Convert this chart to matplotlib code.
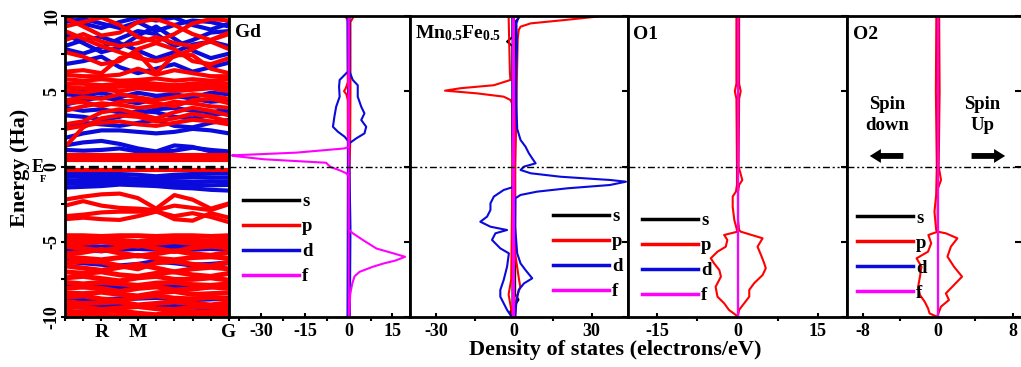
import matplotlib
matplotlib.use("Agg")
import matplotlib.pyplot as plt
from matplotlib.lines import Line2D
from matplotlib.ticker import MultipleLocator, FixedLocator, NullFormatter

plt.rcParams['font.family'] = ['Liberation Serif', 'DejaVu Serif']
plt.rcParams['font.weight'] = 'bold'
plt.rcParams['axes.unicode_minus'] = False
plt.rcParams['mathtext.fontset'] = 'custom'
plt.rcParams['mathtext.rm'] = 'Liberation Serif:bold'
plt.rcParams['mathtext.bf'] = 'Liberation Serif:bold'
plt.rcParams['mathtext.it'] = 'Liberation Serif:bold'

RED = '#ff0000'
BLUE = '#0a0adc'
MAG = '#ff00ff'

# ---------------- band structure data ----------------
K_POINTS = [0, 1, 2, 3, 4, 5, 6, 7, 8, 9]
K_TICK_POS = [2, 4, 9]
K_TICK_LABELS = ['R', 'M', 'G']

BLUE_BANDS = [
    # upper region
    [9.9, 9.5, 9.2, 9.6, 9.9, 9.7, 9.9, 9.4, 9.1, 9.5],
    [9.6, 9.8, 9.5, 9.2, 9.6, 9.0, 9.4, 9.7, 9.6, 9.3],
    [8.8, 8.2, 7.6, 7.9, 8.7, 9.3, 8.5, 7.7, 7.2, 7.5],
    [8.0, 8.4, 8.6, 8.2, 7.7, 7.2, 7.6, 8.1, 8.3, 8.0],
    [7.8, 7.5, 7.9, 8.5, 9.0, 8.8, 8.0, 8.4, 8.9, 9.0],
    [6.8, 7.0, 7.3, 6.6, 6.2, 6.5, 6.8, 6.3, 6.6, 6.9],
    [5.3, 5.1, 5.3, 5.5, 5.3, 5.4, 5.3, 5.5, 5.4, 5.2],
    [4.8, 4.7, 4.9, 4.6, 4.9, 4.7, 4.8, 4.6, 4.9, 4.8],
    [4.1, 4.4, 4.6, 4.4, 4.2, 4.5, 4.7, 4.5, 4.3, 4.4],
    [3.9, 3.7, 3.8, 3.6, 3.5, 3.8, 3.9, 3.7, 3.6, 3.8],
    [3.4, 3.3, 3.1, 3.3, 3.7, 3.6, 3.3, 3.2, 3.4, 3.6],
    [2.5, 2.9, 2.8, 2.7, 2.9, 3.1, 2.7, 2.6, 2.9, 3.1],
    [1.9, 2.2, 2.4, 2.4, 2.3, 2.2, 2.3, 2.5, 2.4, 2.2],
    [1.4, 1.6, 1.7, 1.5, 1.2, 1.0, 1.4, 1.3, 1.0, 0.95],
    [1.1, 1.05, 1.1, 1.2, 1.0, 0.95, 1.05, 1.25, 1.1, 1.0],
    # below Fermi level
    [-0.42, -0.45, -0.5, -0.5, -0.55, -0.65, -0.55, -0.5, -0.48, -0.45],
    [-0.65, -0.7, -0.7, -0.75, -0.8, -0.8, -0.75, -0.7, -0.75, -0.72],
    [-0.9, -0.95, -0.92, -0.9, -0.95, -0.98, -0.98, -1.0, -1.0, -0.98],
    [-1.15, -1.12, -1.1, -1.05, -1.1, -1.12, -1.18, -1.22, -1.25, -1.22],
    [-1.4, -1.35, -1.3, -1.2, -1.25, -1.3, -1.4, -1.45, -1.55, -1.6],
    # deep region
    [-5.25, -5.3, -5.35, -5.3, -5.35, -5.3, -5.25, -5.3, -5.3, -5.25],
    [-5.5, -5.55, -5.6, -5.5, -5.45, -5.5, -5.55, -5.5, -5.45, -5.5],
    [-6.3, -6.4, -6.5, -6.6, -6.5, -6.3, -6.4, -6.55, -6.5, -6.4],
    [-7.9, -8.0, -8.0, -8.05, -7.95, -7.9, -8.0, -8.05, -8.0, -7.95],
    [-8.7, -8.8, -8.85, -8.8, -8.75, -8.7, -8.8, -8.85, -8.8, -8.75],
    [-9.3, -9.35, -9.3, -9.25, -9.3, -9.35, -9.3, -9.35, -9.4, -9.35],
]

RED_BANDS = [
    # upper region
    [9.9, 9.3, 8.7, 8.9, 9.6, 9.8, 9.4, 8.8, 8.4, 8.9],
    [9.3, 9.6, 9.9, 9.4, 8.6, 8.3, 8.8, 9.5, 9.8, 9.7],
    [9.0, 8.5, 8.0, 7.6, 7.2, 7.0, 7.3, 7.8, 8.4, 8.8],
    [8.4, 8.8, 8.3, 8.0, 8.2, 8.6, 8.2, 8.0, 8.3, 7.8],
    [7.6, 7.3, 6.8, 7.0, 7.8, 8.2, 7.8, 7.0, 6.8, 7.2],
    [6.3, 6.4, 6.2, 7.2, 7.5, 6.2, 7.4, 7.4, 6.5, 6.2],
    [6.1, 6.0, 6.0, 6.1, 6.5, 6.1, 6.4, 6.2, 6.0, 6.0],
    [5.8, 5.7, 5.8, 5.7, 5.75, 5.85, 5.7, 5.8, 5.7, 5.8],
    [5.5, 5.5, 5.4, 5.5, 5.6, 5.5, 5.4, 5.5, 5.6, 5.5],
    [5.25, 5.2, 5.25, 5.3, 5.35, 5.3, 5.2, 5.3, 5.35, 5.25],
    [5.0, 4.9, 5.1, 5.0, 5.2, 5.1, 5.0, 5.1, 5.2, 5.0],
    [4.4, 4.6, 4.5, 4.8, 4.6, 4.4, 4.6, 4.8, 4.7, 4.5],
    [4.2, 4.3, 4.0, 4.3, 4.4, 4.2, 4.0, 4.4, 4.5, 4.2],
    [3.7, 4.0, 4.2, 4.1, 3.9, 4.0, 4.3, 4.2, 4.0, 3.9],
    [2.8, 3.0, 3.6, 3.8, 3.5, 3.2, 3.6, 3.9, 3.7, 3.4],
    [2.5, 2.7, 2.9, 3.0, 2.8, 2.7, 2.9, 3.1, 3.0, 2.8],
    [1.3, 2.6, 3.2, 3.4, 3.3, 3.0, 3.2, 3.5, 3.3, 3.0],
    # flat band above E_F
    [0.45, 0.45, 0.45, 0.45, 0.45, 0.45, 0.45, 0.45, 0.45, 0.45],
    [0.62, 0.62, 0.62, 0.62, 0.62, 0.62, 0.62, 0.62, 0.62, 0.62],
    [0.78, 0.78, 0.78, 0.78, 0.78, 0.78, 0.78, 0.78, 0.78, 0.78],
    [-0.2, -0.2, -0.2, -0.2, -0.2, -0.2, -0.2, -0.2, -0.2, -0.2],
    # -2 .. -4 region
    [-2.2, -2.0, -1.85, -1.8, -2.1, -2.8, -1.9, -2.2, -2.8, -2.45],
    [-2.6, -2.3, -2.6, -2.75, -2.8, -2.9, -2.6, -2.75, -2.9, -2.5],
    [-3.3, -3.2, -3.05, -3.0, -3.0, -2.95, -3.5, -3.6, -3.1, -3.4],
    [-3.5, -3.4, -3.5, -3.55, -3.3, -3.0, -3.3, -3.1, -3.35, -3.7],
    # deep region
    [-4.6, -4.6, -4.65, -4.6, -4.6, -4.65, -4.6, -4.6, -4.65, -4.6],
    [-4.9, -4.85, -4.8, -4.9, -5.0, -4.85, -4.8, -4.9, -4.95, -4.85],
    [-5.2, -5.1, -5.0, -5.15, -5.3, -5.1, -5.0, -5.1, -5.2, -5.15],
    [-5.3, -5.45, -5.6, -5.4, -5.2, -5.45, -5.65, -5.4, -5.3, -5.4],
    [-5.8, -5.7, -5.5, -5.75, -5.95, -5.8, -5.6, -5.8, -5.9, -5.7],
    [-6.0, -6.1, -6.2, -6.05, -5.9, -6.1, -6.2, -6.05, -6.0, -6.1],
    [-6.4, -6.3, -6.35, -6.6, -6.8, -6.4, -6.3, -6.5, -6.6, -6.35],
    [-6.6, -6.75, -6.9, -6.7, -6.5, -6.75, -7.0, -6.8, -6.7, -6.8],
    [-7.0, -7.1, -7.0, -7.2, -7.3, -7.1, -7.0, -7.2, -7.3, -7.1],
    [-7.4, -7.3, -7.45, -7.6, -7.4, -7.3, -7.5, -7.5, -7.4, -7.55],
    [-7.7, -7.8, -7.7, -7.8, -7.9, -7.75, -7.7, -7.85, -7.9, -7.8],
    [-8.1, -8.0, -8.1, -8.3, -8.1, -8.0, -8.2, -8.15, -8.0, -8.1],
    [-8.4, -8.45, -8.35, -8.5, -8.6, -8.4, -8.3, -8.5, -8.45, -8.4],
    [-8.7, -8.6, -8.8, -8.9, -8.7, -8.6, -8.75, -8.8, -8.7, -8.8],
    [-9.0, -9.1, -9.05, -9.0, -9.2, -9.1, -9.0, -9.1, -9.2, -9.05],
    [-9.3, -9.35, -9.5, -9.4, -9.3, -9.45, -9.5, -9.35, -9.3, -9.4],
    [-9.6, -9.7, -9.65, -9.6, -9.75, -9.85, -9.6, -9.7, -9.65, -9.6],
    [-9.9, -9.85, -9.95, -9.9, -9.85, -9.95, -9.9, -9.95, -9.85, -9.9],
]

# ---------------- DOS data: Gd ----------------
GD_S_UP_E = [10, -10]
GD_S_UP = [0.2, 0.2]
GD_S_DN_E = [10, -10]
GD_S_DN = [-0.2, -0.2]
GD_P_UP_E = [10, 9.8, 9.6, 5.0, 1.5, 0, -10]
GD_P_UP = [1.8, 1.2, 0.6, 0.6, 0.5, 0.3, 0.2]
GD_P_DN_E = [10, 9.7, 5.6, 5.2, 5.0, 4.8, 4.4, -10]
GD_P_DN = [-1.2, -0.3, -0.3, -1.0, -1.6, -0.8, -0.3, -0.2]
GD_D_UP_E = [10, 6.3, 5.75, 5.4, 4.64, 3.97, 3.53, 3.09, 2.64, 2.2, 1.87, 1.54, 1.2, -4, -10]
GD_D_UP = [0.3, 0.3, 1.4, 3.1, 3.1, 4.3, 5.4, 4.3, 6.0, 5.4, 2.6, 0.2, 0.1, 0.6, 0.4]
GD_D_DN_E = [10, 6.3, 5.75, 5.3, 4.64, 3.97, 3.31, 2.64, 2.31, 1.98, 1.65, 1.3, -10]
GD_D_DN = [-0.4, -0.3, -3.1, -3.3, -3.1, -4.3, -4.9, -5.4, -3.7, -1.4, 0, -0.2, -0.4]
GD_F_UP_E = [10, -4.2, -4.45, -4.9, -5.45, -5.77, -6.0, -6.25, -6.44, -6.66, -7.0, -7.3, -7.8, -8.5, -10]
GD_F_UP = [0.0, 0.0, 1.5, 5.0, 9.5, 15.3, 19.3, 16.0, 12.0, 8.3, 3.7, 2.0, 1.2, 0.5, 0.2]
GD_F_DN_E = [10, 1.3, 1.2, 0.92, 0.74, 0.67, 0.48, 0.25, 0.1, -0.05, -0.25, -0.45, -0.67, -10]
GD_F_DN = [0, 0, -1.5, -18, -40, -38, -29, -7.7, -7.0, -6.0, -3.1, -0.8, 0, 0]

# ---------------- DOS data: Mn0.5Fe0.5 ----------------
MF_S_UP_E = [10, 9.9, 9.6, -8.5, -8.85, -9.2, -10]
MF_S_UP = [0.5, 2.0, 0.5, 0.5, 1.8, 0.5, 0.5]
MF_S_DN_E = [10, 8.6, 8.3, 8.0, -9.4, -9.7, -10]
MF_S_DN = [-0.5, -0.5, -2.6, -0.5, -0.5, -1.5, -0.5]
MF_P_UP_E = [10, 9.95, 9.73, 9.51, 9.29, 9.07, 8.5, 6, 4, 2, 0, -5.77, -7.5, -8.0, -8.7, -10]
MF_P_UP = [33, 31.6, 19.4, 6.5, 2.6, 1.9, 1.5, 1.2, 1.0, 0.8, 0.5, 0.5, 2.0, 2.5, 1.0, 0.5]
MF_P_DN_E = [10, 6.2, 5.75, 5.4, 5.2, 5.04, 4.86, 4.64, 4.42, 4.2, 2, 0, -7.5, -8.5, -9.5, -10]
MF_P_DN = [-2, -1.5, -1.3, -7.7, -20.6, -26.5, -14.2, -3.9, -1.3, -0.7, -0.5, -0.5, -1, -2, -1, -0.5]
MF_D_UP_E = [10, 9.5, 8, 6, 4, 2.5, 1.76, 1.32, 0.88, 0.54, 0.21, -0.01, -0.23, -0.45, -0.68,
             -0.9, -1.01, -1.23, -1.45, -1.67, -1.89, -2.11, -4, -5.77, -6.44, -6.88, -7.43,
             -7.77, -8.2, -9, -10]
MF_D_UP = [2, 1.0, 1.2, 0.8, 1.0, 1.3, 2.6, 4.5, 5.8, 7.1, 8.4, 3.9, 2.6, 6.5, 18,
           37.4, 43.2, 37, 20.6, 9, 2.6, 0.6, 0.5, 1.3, 2.6, 4.5, 7.1,
           3.9, 1.9, 1.0, 0.5]
MF_D_DN_E = [10, 2, -1.35, -1.56, -2.0, -2.45, -2.89, -3.33, -3.67, -4.0, -4.22, -4.44, -4.88,
             -5.44, -5.77, -6.66, -7.54, -8.2, -8.65, -9.09, -9.53, -9.87, -10]
MF_D_DN = [-0.5, -0.5, 0, -3.9, -7.7, -9, -9, -10.3, -12.9, -9, -2.6, -7.1, -8.4,
           -5.2, -1.9, -2.6, -3.9, -5.2, -5.2, -3.9, -2.6, -1.3, -0.5]
MF_F_UP_E = [10, -10]
MF_F_UP = [0.0, 0.0]
MF_F_DN_E = [10, -10]
MF_F_DN = [-0.2, -0.2]

# ---------------- DOS data: O1 ----------------
O1_S_E = [10, -10]
O1_S = [0.0, 0.0]
O1_P_UP_E = [10, 5.5, 5, 4.5, 0, -0.9, -1.23, -1.67, -2.67, -3.55, -4.22, -4.33, -4.77, -5.33,
             -5.88, -6.43, -6.76, -7.21, -7.76, -8.2, -8.65, -9.09, -9.53, -9.87, -10]
O1_P_UP = [0.3, 0.3, 0.6, 0.3, 0.2, 0.9, 0.3, 0.1, 0.1, 0.1, 0.3, 0.6, 4.7, 3.75,
           4.4, 5, 5.3, 4.7, 3.1, 2.2, 2.2, 1.25, 0.3, 0.1, 0]
O1_P_DN_E = [10, 5.5, 5, 4.5, 0, -1.23, -1.67, -2.0, -2.67, -3.55, -4.22, -4.33, -4.55, -4.88,
             -5.33, -5.66, -6.1, -6.43, -6.88, -7.32, -7.99, -8.65, -9.09, -9.53, -9.87, -10]
O1_P_DN = [-0.2, -0.2, -0.5, -0.2, -0.1, -0.1, -0.3, -0.9, -0.9, -0.6, -0.1, 0, -2.5, -1.9,
           -2.2, -3.75, -5, -4.4, -3.4, -3.1, -4.1, -3.75, -2.5, -1.6, -0.3, 0]
O1_D_E = [10, -10]
O1_D = [0.0, 0.0]
O1_F_E = [10, -10]
O1_F = [0.0, 0.0]

# ---------------- DOS data: O2 ----------------
O2_S_E = [10, -10]
O2_S = [0.0, 0.0]
O2_P_UP_E = [10, 5, 0, -0.9, -1.5, -4.33, -4.44, -4.77, -5.33, -5.99, -6.66, -7.32, -7.87,
             -8.43, -8.87, -9.31, -9.87, -10]
O2_P_UP = [0.15, 0.2, 0.1, 0.35, 0, 0, 0.87, 2.1, 1.4, 1.04, 1.74, 2.6, 1.74,
           0.87, 1.2, 0.35, 0, 0]
O2_P_DN_E = [10, 5, 0, -1.9, -3.0, -4.22, -4.33, -4.55, -5.1, -5.66, -6.1, -6.66, -7.32,
             -7.99, -8.54, -8.98, -9.42, -9.76, -9.95, -10]
O2_P_DN = [-0.15, -0.2, -0.1, -0.17, -0.35, -0.17, 0, -1.0, -0.7, -1.04, -2.26, -1.74, -1.9,
           -2.1, -1.9, -1.4, -1.04, -0.87, -0.2, 0]
O2_D_E = [10, -10]
O2_D = [0.0, 0.0]
O2_F_E = [10, -10]
O2_F = [0.0, 0.0]

LEGEND_LABELS = ['s', 'p', 'd', 'f']
X_LIMS = [(-41, 21), (-40, 44), (-20.5, 20.5), (-9.7, 8.9)]
X_MAJOR = [[-30, -15, 0, 15], [-30, 0, 30], [-15, 0, 15], [-8, 0, 8]]
X_MINOR = [7.5, 15, 7.5, 4]

# ---------------- figure ----------------
W, H = 1021, 367
fig = plt.figure(figsize=(W / 100, H / 100), dpi=100)
Y0, Y1 = 16, 317
def ax_at(x0, x1):
    return fig.add_axes([x0 / W, 1 - Y1 / H, (x1 - x0) / W, (Y1 - Y0) / H])

ax_b = ax_at(65, 229)
ax_gd = ax_at(229, 410)
ax_mf = ax_at(410, 628)
ax_o1 = ax_at(628, 847)
ax_o2 = ax_at(847, 1021)
dos_axes = [ax_gd, ax_mf, ax_o1, ax_o2]

FS_TICK = 13
SPINE_LW = 2.0

# band structure
for b in BLUE_BANDS:
    ax_b.plot(K_POINTS, b, color=BLUE, lw=3.6 if max(b) < -4.4 else 3.0,
              solid_capstyle='butt', solid_joinstyle='round')
for b in RED_BANDS:
    ax_b.plot(K_POINTS, b, color=RED, lw=3.6 if max(b) < -4.4 else 3.0,
              solid_capstyle='butt', solid_joinstyle='round')
ax_b.axhline(0, color='black', lw=2.4, ls=(0, (3, 1.5, 1, 1.5)))
ax_b.set_xlim(0, 9)
ax_b.set_ylim(-10, 10)
ax_b.xaxis.set_major_locator(FixedLocator(K_TICK_POS))
ax_b.set_xticklabels(K_TICK_LABELS, fontsize=14, fontweight='bold')
ax_b.xaxis.set_minor_locator(FixedLocator(K_POINTS))
ax_b.yaxis.set_major_locator(MultipleLocator(5))
ax_b.yaxis.set_minor_locator(MultipleLocator(2.5))
ax_b.tick_params(axis='x', which='both', direction='out', length=3, width=1.5, pad=2)
ax_b.tick_params(axis='y', which='major', direction='out', length=3, width=1.5, pad=0.5)
ax_b.tick_params(axis='y', which='minor', direction='out', length=3, width=1.5)
for lab in ax_b.get_yticklabels():
    lab.set_rotation(90)
    lab.set_va('center')
    lab.set_fontsize(FS_TICK)
    lab.set_fontweight('bold')
# E_F label: "E" with a small subscript "F" tucked below-right
fig.text(37.5 / W, 1 - 168 / H, 'E', ha='center', va='center', fontsize=13,
         fontweight='bold')
fig.text(43 / W, 1 - 180 / H, 'F', ha='center', va='center', fontsize=7.5,
         fontweight='bold')

# DOS panels
def dos_panel(ax, curves, title, title_xy, leg_xy, xlim, major, minor):
    for E, X, col in curves:
        ax.plot(X, E, color=col, lw=1.5)
    ax.axhline(0, color='black', lw=1.0, ls=(0, (5, 2, 1.5, 2, 1.5, 2)))
    ax.set_xlim(*xlim)
    ax.set_ylim(-10, 10)
    ax.xaxis.set_major_locator(FixedLocator(major))
    ax.xaxis.set_minor_locator(MultipleLocator(minor))
    ax.tick_params(axis='x', which='major', direction='in', length=3, width=1.5,
                   labelsize=FS_TICK, pad=4)
    ax.tick_params(axis='x', which='minor', direction='out', length=3, width=1.5)
    ax.yaxis.set_major_locator(MultipleLocator(5))
    ax.yaxis.set_major_formatter(NullFormatter())
    ax.tick_params(axis='y', which='major', direction='in', length=4, width=1.5,
                   left=False, right=True)
    for lab in ax.get_xticklabels():
        lab.set_fontweight('bold')
    ax.text(title_xy[0], title_xy[1], title, transform=ax.transAxes, fontsize=14,
            fontweight='bold', ha='left', va='center')
    handles = [Line2D([], [], color=c, lw=2.5) for c in ['black', RED, BLUE, MAG]]
    ax.legend(handles, LEGEND_LABELS, loc='center left', bbox_to_anchor=leg_xy,
              frameon=False, handlelength=3.0, handletextpad=0.15,
              labelspacing=0.42, borderpad=0, borderaxespad=0,
              prop={'weight': 'bold', 'size': 13.5})

dos_panel(ax_gd,
          [(GD_S_UP_E, GD_S_UP, 'black'), (GD_S_DN_E, GD_S_DN, 'black'),
           (GD_P_UP_E, GD_P_UP, RED), (GD_P_DN_E, GD_P_DN, RED),
           (GD_D_UP_E, GD_D_UP, BLUE), (GD_D_DN_E, GD_D_DN, BLUE),
           (GD_F_UP_E, GD_F_UP, MAG), (GD_F_DN_E, GD_F_DN, MAG)],
          'Gd', (0.033, 0.944), (0.077, 0.259), X_LIMS[0], X_MAJOR[0], X_MINOR[0])
dos_panel(ax_mf,
          [(MF_S_UP_E, MF_S_UP, 'black'), (MF_S_DN_E, MF_S_DN, 'black'),
           (MF_P_UP_E, MF_P_UP, RED), (MF_P_DN_E, MF_P_DN, RED),
           (MF_D_UP_E, MF_D_UP, BLUE), (MF_D_DN_E, MF_D_DN, BLUE),
           (MF_F_UP_E, MF_F_UP, MAG), (MF_F_DN_E, MF_F_DN, MAG)],
          'Mn$_{0.5}$Fe$_{0.5}$', (0.023, 0.944), (0.656, 0.208), X_LIMS[1], X_MAJOR[1], X_MINOR[1])
dos_panel(ax_o1,
          [(O1_S_E, O1_S, 'black'), (O1_P_UP_E, O1_P_UP, RED), (O1_P_DN_E, O1_P_DN, RED),
           (O1_D_E, O1_D, BLUE), (O1_F_E, O1_F, MAG)],
          'O1', (0.023, 0.94), (0.064, 0.196), X_LIMS[2], X_MAJOR[2], X_MINOR[2])
dos_panel(ax_o2,
          [(O2_S_E, O2_S, 'black'), (O2_P_UP_E, O2_P_UP, RED), (O2_P_DN_E, O2_P_DN, RED),
           (O2_D_E, O2_D, BLUE), (O2_F_E, O2_F, MAG)],
          'O2', (0.033, 0.94), (0.057, 0.203), X_LIMS[3], X_MAJOR[3], X_MINOR[3])
ax_o2.spines['right'].set_visible(False)

for ax in [ax_b] + dos_axes:
    for sp in ax.spines.values():
        sp.set_linewidth(SPINE_LW)
for lab in ax_b.get_xticklabels():
    lab.set_fontweight('bold')

# spin annotations
ax_o2.text(0.23, 0.67, 'Spin\ndown', transform=ax_o2.transAxes, ha='center', va='center',
           fontsize=13.5, fontweight='bold', linespacing=1.3)
ax_o2.text(0.776, 0.67, 'Spin\nUp', transform=ax_o2.transAxes, ha='center', va='center',
           fontsize=13.5, fontweight='bold', linespacing=1.3)
arrow = dict(arrowstyle='simple,head_length=0.8,head_width=1.0,tail_width=0.42',
             color='black', lw=0)
ax_o2.annotate('', xy=(0.115, 0.535), xytext=(0.34, 0.535), xycoords='axes fraction',
               textcoords='axes fraction', arrowprops=arrow)
ax_o2.annotate('', xy=(0.925, 0.535), xytext=(0.70, 0.535), xycoords='axes fraction',
               textcoords='axes fraction', arrowprops=arrow)

fig.text(20 / W, 1 - 168 / H, 'Energy (Ha)', rotation=90, ha='center', va='center',
         fontsize=16, fontweight='bold')
fig.text(615 / W, 1 - 350 / H, 'Density of states (electrons/eV)', ha='center',
         va='center', fontsize=16, fontweight='bold')

fig.savefig('out.png', dpi=100)
